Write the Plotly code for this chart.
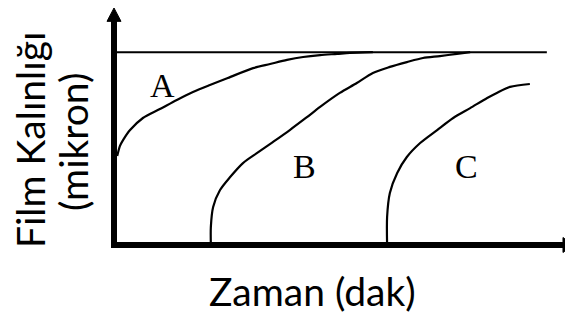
import plotly.graph_objects as go

# --- data (time in arbitrary minutes, thickness in arbitrary microns) ---
a_time = [0.07, 0.13, 0.2, 0.35, 0.63, 1.0, 1.37, 1.72, 2.09, 2.48, 3.03, 3.4, 3.77, 4.12, 4.49, 4.86, 5.14, 5.64]
a_thick = [3.69, 4.11, 4.36, 4.77, 5.27, 5.64, 6.02, 6.35, 6.64, 6.93, 7.34, 7.51, 7.68, 7.8, 7.88, 7.93, 7.97, 8.0]

b_time = [2.11, 2.11, 2.16, 2.31, 2.53, 2.81, 3.12, 3.46, 3.83, 4.18, 4.49, 4.92, 5.29, 5.64, 6.01, 6.38, 6.73, 7.1, 7.47, 7.76]
b_thick = [0.0, 0.75, 1.58, 2.28, 2.82, 3.4, 3.82, 4.27, 4.77, 5.27, 5.73, 6.31, 6.72, 7.14, 7.39, 7.59, 7.76, 7.84, 7.93, 8.0]

c_time = [5.95, 5.95, 6.01, 6.17, 6.38, 6.67, 7.04, 7.39, 7.76, 8.13, 8.34, 8.63, 9.06]
c_thick = [0.0, 1.16, 2.16, 2.99, 3.65, 4.23, 4.77, 5.27, 5.68, 6.1, 6.31, 6.56, 6.68]

limit_time = [0.0, 9.43]
limit_thick = [8.0, 8.0]

labels = ["A", "B", "C"]
label_time = [1.05, 4.16, 7.67]
label_thick = [6.6, 3.24, 3.24]

x_title = "Zaman (dak)"
y_title_1 = "Film Kalınlığı"
y_title_2 = "(mikron)"

fig = go.Figure()

line_style = dict(color="black", width=2.2, shape="spline", smoothing=0.8)
for tx, ty in [(a_time, a_thick), (b_time, b_thick), (c_time, c_thick)]:
    fig.add_trace(go.Scatter(x=tx, y=ty, mode="lines", line=line_style, hoverinfo="skip"))

fig.add_trace(go.Scatter(x=limit_time, y=limit_thick, mode="lines",
                         line=dict(color="black", width=2), hoverinfo="skip"))

for t, xx, yy in zip(labels, label_time, label_thick):
    fig.add_annotation(x=xx, y=yy, text=t, showarrow=False,
                       font=dict(family="Liberation Serif", size=34, color="black"),
                       xanchor="center", yanchor="middle")

# axes with arrows
fig.add_shape(type="line", x0=0, y0=-0.124, x1=0, y1=9.32, line=dict(color="black", width=6))
fig.add_shape(type="line", x0=-0.065, y0=0, x1=9.8, y1=0, line=dict(color="black", width=6))
fig.add_shape(type="path", path="M -0.1525 9.28 L 0 9.834 L 0.1525 9.28 Z",
              fillcolor="black", line=dict(color="black", width=1))
fig.add_shape(type="path", path="M 9.782 -0.311 L 10.0 0 L 9.782 0.311 Z",
              fillcolor="black", line=dict(color="black", width=1))

# page offset of 8 px is compensated: page x -> paper (x-100)/473, page y -> paper (271-y)/263
title_font = dict(family="Lato", size=39, color="black")
fig.add_annotation(xref="paper", yref="paper", x=(312.5 - 100) / 473, y=(271 - 291) / 263,
                   text=x_title, showarrow=False, font=title_font,
                   xanchor="center", yanchor="middle")
fig.add_annotation(xref="paper", yref="paper", x=(30 - 100) / 473, y=(271 - 140) / 263,
                   text=y_title_1, showarrow=False, font=title_font, textangle=-90,
                   xanchor="center", yanchor="middle")
fig.add_annotation(xref="paper", yref="paper", x=(73 - 100) / 473, y=(271 - 142) / 263,
                   text=y_title_2, showarrow=False, font=title_font, textangle=-90,
                   xanchor="center", yanchor="middle")

axis_common = dict(showgrid=False, zeroline=False, showticklabels=False, showline=False, ticks="")
fig.update_xaxes(range=[-0.305, 10.0], **axis_common)
fig.update_yaxes(range=[-1.079, 9.834], **axis_common)
fig.update_layout(width=565, height=315, margin=dict(l=92, r=0, t=0, b=52),
                  plot_bgcolor="white", paper_bgcolor="white", showlegend=False)

fig.write_html("out.html")
